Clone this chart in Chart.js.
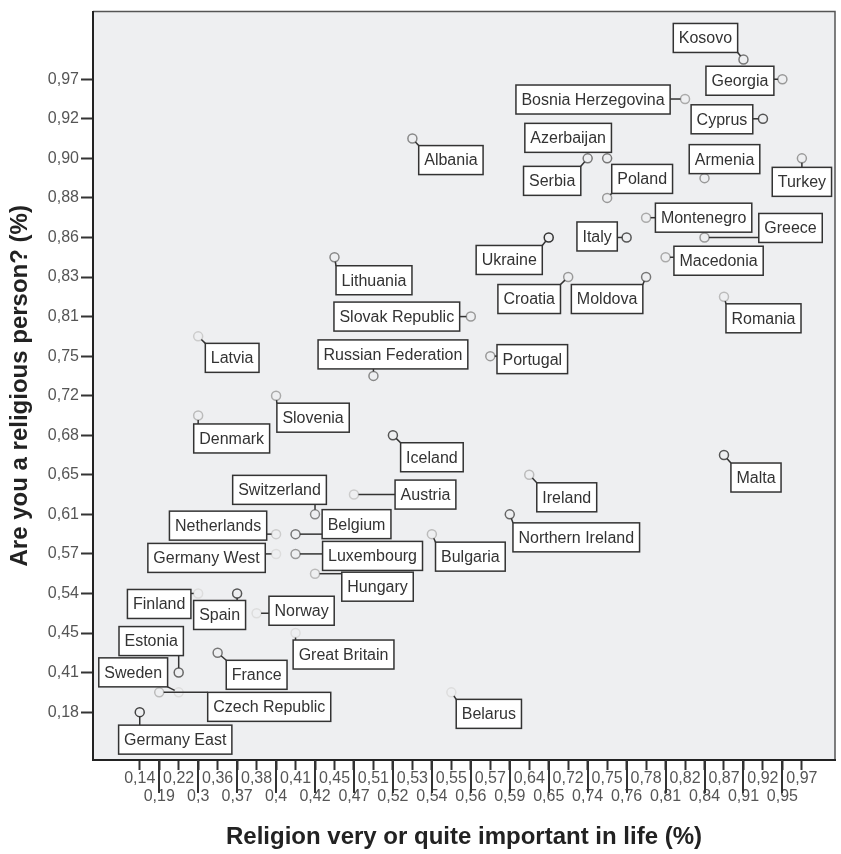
<!DOCTYPE html>
<html>
<head>
<meta charset="utf-8">
<script src="https://cdn.jsdelivr.net/npm/chart.js@4.4.0/dist/chart.umd.min.js"></script>
<style>
  html, body { margin: 0; padding: 0; background: #fff; }
</style>
</head>
<body>
<canvas id="religion" width="841" height="854"></canvas>
<script>
// Category values on each axis (only the ones that occur in the data)
const xCategories = [0.14, 0.19, 0.22, 0.3, 0.36, 0.37, 0.38, 0.4, 0.41, 0.42, 0.45, 0.47, 0.51, 0.52, 0.53, 0.54, 0.55,
    0.56, 0.57, 0.59, 0.64, 0.65, 0.72, 0.74, 0.75, 0.76, 0.78, 0.81, 0.82, 0.84, 0.87, 0.91, 0.92, 0.95, 0.97];
const yCategories = [0.18, 0.33, 0.41, 0.43, 0.45, 0.50, 0.54, 0.55, 0.57, 0.59, 0.61, 0.63, 0.65, 0.66, 0.68, 0.70, 0.72,
    0.73, 0.75, 0.78, 0.81, 0.82, 0.83, 0.85, 0.86, 0.87, 0.88, 0.89, 0.90, 0.91, 0.92, 0.94, 0.97, 0.98];

const countries = ['Kosovo', 'Georgia', 'Bosnia Herzegovina', 'Cyprus', 'Azerbaijan', 'Serbia', 'Poland', 'Armenia',
    'Turkey', 'Albania', 'Montenegro', 'Greece', 'Italy', 'Ukraine', 'Macedonia', 'Croatia', 'Moldova', 'Lithuania',
    'Romania', 'Slovak Republic', 'Latvia', 'Portugal', 'Russian Federation', 'Slovenia', 'Denmark', 'Iceland', 'Malta',
    'Ireland', 'Austria', 'Switzerland', 'Northern Ireland', 'Belgium', 'Netherlands', 'Bulgaria', 'Germany West',
    'Luxembourg', 'Hungary', 'Finland', 'Spain', 'Norway', 'Great Britain', 'France', 'Estonia', 'Sweden',
    'Czech Republic', 'Germany East', 'Belarus'];
// Religion very or quite important in life
const importance = [0.91, 0.95, 0.82, 0.92, 0.75, 0.74, 0.75, 0.84, 0.97, 0.53, 0.78, 0.84, 0.76, 0.65, 0.81, 0.72, 0.78,
    0.45, 0.87, 0.56, 0.3, 0.57, 0.51, 0.4, 0.3, 0.52, 0.87, 0.64, 0.47, 0.42, 0.59, 0.41, 0.4, 0.54, 0.4, 0.41, 0.42,
    0.3, 0.37, 0.38, 0.41, 0.36, 0.22, 0.22, 0.19, 0.14, 0.55];
// Are you a religious person?
const religious = [0.98, 0.97, 0.94, 0.92, 0.90, 0.90, 0.88, 0.89, 0.90, 0.91, 0.87, 0.86, 0.86, 0.86, 0.85, 0.83, 0.83,
    0.85, 0.82, 0.81, 0.78, 0.75, 0.73, 0.72, 0.70, 0.68, 0.66, 0.65, 0.63, 0.61, 0.61, 0.59, 0.59, 0.59, 0.57, 0.57, 0.55,
    0.54, 0.54, 0.50, 0.45, 0.43, 0.41, 0.33, 0.33, 0.18, 0.33];

// label box centre relative to its point (px), and point outline shade
const labelPos = {
    'Kosovo': [-38, -21.5], 'Georgia': [-42.5, 1.5], 'Bosnia Herzegovina': [-92, 0.5], 'Cyprus': [-41, 0.5],
    'Azerbaijan': [-39, -20.5], 'Serbia': [-35.5, 22.5], 'Poland': [35, -19], 'Armenia': [20, -19], 'Turkey': [0, 23.5],
    'Albania': [38.5, 21.5], 'Montenegro': [57.5, 0], 'Greece': [86, -9.5], 'Italy': [-29.5, -1], 'Ukraine': [-39.5, 22.5],
    'Macedonia': [53, 3.5], 'Croatia': [-39, 22], 'Moldova': [-39, 22], 'Lithuania': [39.5, 23], 'Romania': [39.5, 21.5],
    'Slovak Republic': [-74, 0], 'Latvia': [34, 21.5], 'Portugal': [42, 3], 'Russian Federation': [19.5, -21.5],
    'Slovenia': [37, 22], 'Denmark': [33.5, 23], 'Iceland': [39, 22], 'Malta': [32, 22.5], 'Ireland': [37.5, 22.5],
    'Austria': [71.5, 0], 'Switzerland': [-35.5, -24.5], 'Northern Ireland': [66.5, 23], 'Belgium': [61, -10],
    'Netherlands': [-58, -8.5], 'Bulgaria': [38.5, 22.5], 'Germany West': [-69.5, 4], 'Luxembourg': [77, 2],
    'Hungary': [62.5, 13], 'Finland': [-39, 10.5], 'Spain': [-17.5, 21.5], 'Norway': [45, -2.5],
    'Great Britain': [48, 21.5], 'France': [39, 22], 'Estonia': [-27.5, -31.5], 'Sweden': [-45.5, -20],
    'Czech Republic': [110, 14.5], 'Germany East': [35.5, 27.5], 'Belarus': [37.5, 21.5]
};
const shade = {
    'Kosovo': '#777', 'Georgia': '#999', 'Bosnia Herzegovina': '#aaa', 'Cyprus': '#555', 'Azerbaijan': '#777',
    'Serbia': '#777', 'Poland': '#999', 'Armenia': '#999', 'Turkey': '#999', 'Albania': '#888', 'Montenegro': '#aaa',
    'Greece': '#999', 'Italy': '#555', 'Ukraine': '#333', 'Macedonia': '#aaa', 'Croatia': '#999', 'Moldova': '#777',
    'Lithuania': '#888', 'Romania': '#bbb', 'Slovak Republic': '#999', 'Latvia': '#ccc', 'Portugal': '#999',
    'Russian Federation': '#888', 'Slovenia': '#aaa', 'Denmark': '#bbb', 'Iceland': '#555', 'Malta': '#555',
    'Ireland': '#bbb', 'Austria': '#ccc', 'Switzerland': '#888', 'Northern Ireland': '#666', 'Belgium': '#777',
    'Netherlands': '#ccc', 'Bulgaria': '#bbb', 'Germany West': '#ddd', 'Luxembourg': '#999', 'Hungary': '#bbb',
    'Finland': '#ddd', 'Spain': '#555', 'Norway': '#ddd', 'Great Britain': '#ddd', 'France': '#777', 'Estonia': '#666',
    'Sweden': '#ddd', 'Czech Republic': '#bbb', 'Germany East': '#444', 'Belarus': '#ddd'
};

const fmtX = v => String(v).replace('.', ',');
const fmtY = v => v.toFixed(2).replace('.', ',');
const FONT = '"Liberation Sans", Arial, sans-serif';

const points = countries.map((c, i) => ({ x: fmtX(importance[i]), y: fmtY(religious[i]) }));

const frame = {
    id: 'frame',
    beforeDraw(chart) {
        const { ctx, chartArea: a } = chart;
        ctx.save();
        ctx.fillStyle = '#fff';
        ctx.fillRect(0, 0, chart.width, chart.height);
        ctx.fillStyle = '#eeeff1';
        ctx.fillRect(a.left, a.top, a.right - a.left, a.bottom - a.top);
        ctx.strokeStyle = '#555';
        ctx.lineWidth = 1.5;
        ctx.beginPath();
        ctx.moveTo(a.left, a.top);
        ctx.lineTo(a.right, a.top);
        ctx.lineTo(a.right, a.bottom);
        ctx.stroke();
        ctx.restore();
    },
    afterDraw(chart) {
        // long tick lines for the second row of x labels
        const { ctx, chartArea: a } = chart;
        const xs = chart.scales.x;
        ctx.save();
        ctx.strokeStyle = '#333';
        ctx.lineWidth = 2;
        for (let i = 1; i < xs.ticks.length; i += 2) {
            const px = Math.round(xs.getPixelForTick(i));
            ctx.beginPath();
            ctx.moveTo(px, a.bottom);
            ctx.lineTo(px, 793);
            ctx.stroke();
        }
        ctx.restore();
    },
    afterDatasetsDraw(chart) {
        const { ctx } = chart;
        const meta = chart.getDatasetMeta(0);
        const r = 4.5;
        ctx.save();
        ctx.font = '16px ' + FONT;
        ctx.textAlign = 'center';
        ctx.textBaseline = 'middle';
        countries.forEach((name, i) => {
            const pt = meta.data[i];
            const off = labelPos[name];
            const w = ctx.measureText(name).width + 11;
            const h = 29;
            const cx = pt.x + off[0], cy = pt.y + off[1];
            const left = cx - w / 2, top = cy - h / 2;
            // leader line
            const nx = Math.min(Math.max(pt.x, left), left + w);
            const ny = Math.min(Math.max(pt.y, top), top + h);
            const d = Math.hypot(nx - pt.x, ny - pt.y);
            if (d > r + 1.5) {
                ctx.strokeStyle = '#333';
                ctx.lineWidth = 1.5;
                ctx.beginPath();
                ctx.moveTo(pt.x + (nx - pt.x) / d * r, pt.y + (ny - pt.y) / d * r);
                ctx.lineTo(nx, ny);
                ctx.stroke();
            }
            ctx.fillStyle = '#fff';
            ctx.fillRect(left, top, w, h);
            ctx.strokeStyle = '#333';
            ctx.lineWidth = 1.5;
            ctx.strokeRect(left, top, w, h);
            ctx.fillStyle = '#333';
            ctx.fillText(name, cx, cy + 1);
        });
        ctx.restore();
    }
};

const ctx = document.getElementById('religion').getContext('2d');
const chart = new Chart(ctx, {
    type: 'scatter',
    data: {
        datasets: [{
            data: points,
            pointRadius: 4.5,
            pointHoverRadius: 4.5,
            pointBorderWidth: 1.5,
            pointBackgroundColor: 'rgba(0,0,0,0)',
            pointBorderColor: countries.map(c => shade[c])
        }]
    },
    options: {
        responsive: false,
        animation: false,
        layout: { padding: { top: 9, right: 3, left: 0, bottom: 0 } },
        plugins: { legend: { display: false }, tooltip: { enabled: false } },
        scales: {
            x: {
                type: 'category',
                labels: xCategories.map(fmtX),
                afterBuildTicks: s => { s._startValue = -2.4; s._valueRange = xCategories.length - 1 + 2.4 + 1.7; },
                afterFit: s => { s.height = 94; },
                grid: { drawOnChartArea: false, tickLength: 10, tickWidth: 2, tickColor: '#333' },
                border: { display: true, color: '#222', width: 2 },
                ticks: {
                    autoSkip: false, maxRotation: 0, minRotation: 0, padding: 0,
                    color: '#555',
                    font: { family: FONT, size: 16, lineHeight: 1.125 },
                    callback: function (v, i) {
                        const lab = this.getLabelForValue(v);
                        return i % 2 ? ['', lab] : lab;
                    }
                },
                title: {
                    display: true,
                    text: 'Religion very or quite important in life (%)',
                    color: '#222',
                    font: { family: FONT, size: 24, weight: 'bold' },
                    padding: { top: 0, bottom: 2 }
                }
            },
            y: {
                type: 'category',
                reverse: true,
                labels: yCategories.map(fmtY),
                afterBuildTicks: s => {
                    s._startValue = -2.42;
                    s._valueRange = yCategories.length - 1 + 4.84;
                    s.ticks = s.ticks.filter(t => t.value % 2 === 0);
                },
                afterFit: s => { s.width = 93; },
                grid: { drawOnChartArea: false, tickLength: 12, tickWidth: 2, tickColor: '#333' },
                border: { display: true, color: '#222', width: 2 },
                ticks: {
                    autoSkip: false, padding: 2,
                    color: '#555',
                    font: { family: FONT, size: 16 }
                },
                title: {
                    display: true,
                    text: 'Are you a religious person? (%)',
                    color: '#222',
                    font: { family: FONT, size: 24, weight: 'bold' },
                    padding: { top: 6, bottom: 0 }
                }
            }
        }
    },
    plugins: [frame]
});
</script>
</body>
</html>
